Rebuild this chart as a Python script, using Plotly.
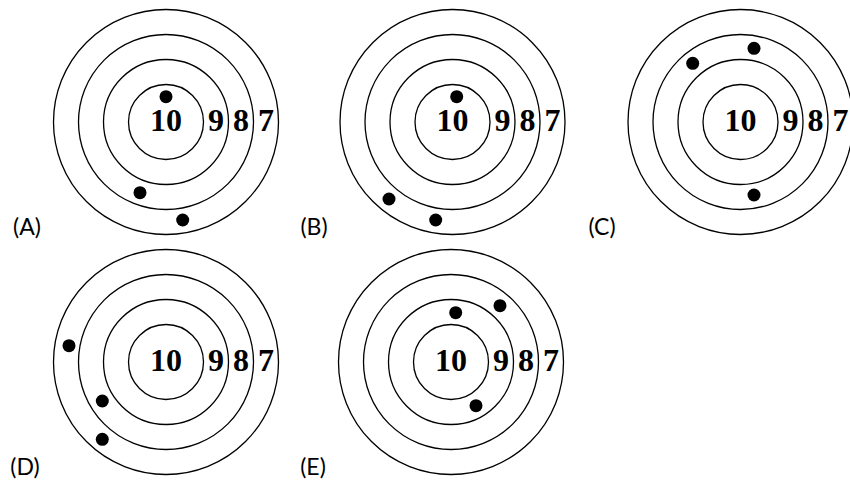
import plotly.graph_objects as go

W, H = 850, 485

# Targets: option letter, centre (pixels)
options = ["(A)", "(B)", "(C)", "(D)", "(E)"]
centre_x = [166, 452.5, 740.5, 166, 451]
centre_y = [122, 122, 122, 362, 362]

# Ring radii (pixels) and ring scores
ring_radii = [37.5, 62.5, 87.5, 112.5]
ring_scores = ["10", "9", "8", "7"]
score_offsets = [0, 50, 75, 100]

# Shot offsets from the target centre (dx right, dy down), pixels
shots_dx = [
    [0, -26, 16.7],
    [4.2, -63.5, -16.8],
    [-47.8, 13.5, 13.5],
    [-97, -63.7, -63.7],
    [4.7, 49, 25],
]
shots_dy = [
    [-25.3, 70.7, 98],
    [-25.3, 77, 98],
    [-58.7, -73.7, 73],
    [-16.3, 39, 77.3],
    [-49.3, -56.3, 43.7],
]

# Option label positions
label_x = [27, 314, 602, 25, 313]
label_y = [229, 229, 229, 469, 469]

fig = go.Figure()
shapes = []
for cx, cy in zip(centre_x, centre_y):
    for r in ring_radii:
        shapes.append(dict(type="circle", xref="x", yref="y",
                           x0=cx - r, x1=cx + r, y0=cy - r, y1=cy + r,
                           line=dict(color="black", width=1.3)))

# ring score numbers
tx, ty, tt = [], [], []
for cx, cy in zip(centre_x, centre_y):
    for s, o in zip(ring_scores, score_offsets):
        tx.append(cx + o)
        ty.append(cy + 1)
        tt.append(s)
fig.add_trace(go.Scatter(x=tx, y=ty, text=tt, mode="text",
                         textposition="middle center", cliponaxis=False,
                         textfont=dict(family="Liberation Serif", size=32,
                                       color="black", weight="bold"),
                         hoverinfo="skip", showlegend=False))

# shots
sx, sy = [], []
for cx, cy, dxs, dys in zip(centre_x, centre_y, shots_dx, shots_dy):
    for dx, dy in zip(dxs, dys):
        sx.append(cx + dx)
        sy.append(cy + dy)
fig.add_trace(go.Scatter(x=sx, y=sy, mode="markers",
                         marker=dict(size=13, color="black"),
                         hoverinfo="skip", showlegend=False))

# option labels
fig.add_trace(go.Scatter(x=label_x, y=label_y, text=options, mode="text",
                         textposition="middle center", cliponaxis=False,
                         textfont=dict(family="Lato", size=23, color="black"),
                         hoverinfo="skip", showlegend=False))

fig.update_layout(width=W, height=H, autosize=False,
                  margin=dict(l=0, r=0, t=0, b=0),
                  paper_bgcolor="white", plot_bgcolor="white",
                  shapes=shapes)
fig.update_xaxes(range=[0, W], visible=False, fixedrange=True)
fig.update_yaxes(range=[H, 0], visible=False, fixedrange=True)
fig.write_html("out.html", config={"displayModeBar": False},
               post_script="document.body.style.margin='0';")
